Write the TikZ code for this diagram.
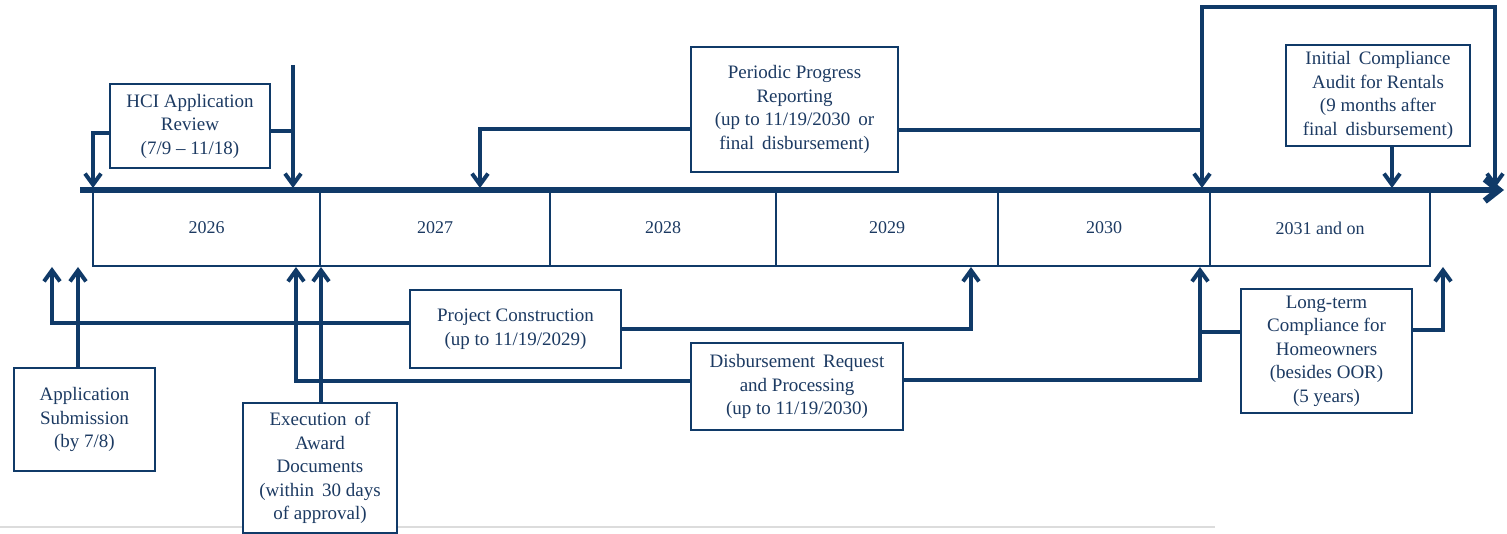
\documentclass[tikz,border=0pt]{standalone}
\usepackage{fontspec}
\setmainfont{Liberation Serif}
\usetikzlibrary{arrows.meta,calc}
\definecolor{navy}{RGB}{16,58,104}
\definecolor{txt}{RGB}{28,58,98}
\definecolor{faint}{RGB}{220,220,220}
\tikzset{
  yearbox/.style={draw=navy, line width=1.6pt, fill=white, text=txt,
    font=\fontsize{18}{22}\selectfont, minimum height=76pt, inner sep=0pt},
  evbox/.style={draw=navy, line width=2pt, fill=white, text=txt, align=center,
    font=\fontsize{19}{23.5}\selectfont, inner sep=0pt},
  conn/.style={draw=navy, line width=4pt, line join=miter},
  arr/.style={-{Straight Barb[length=11pt,width=16pt]}},
  bothArr/.style={{Straight Barb[length=11pt,width=16pt]}-{Straight Barb[length=11pt,width=16pt]}},
  timeline/.style={draw=navy, line width=6.5pt, -{Straight Barb[length=14pt,width=22pt]}}
}
\begin{document}
\begin{tikzpicture}[x=1pt,y=-1pt]
\useasboundingbox (0,0) rectangle (1507,534);

% faint rule at the bottom
\coordinate (gl1) at (0,527);
\coordinate (gl2) at (1215,527);
\draw[faint, line width=1.3pt] (gl1) -- (gl2);

% year boxes
\node[yearbox, minimum width=227pt] (y2026) at (206.5,228) {2026};
\node[yearbox, minimum width=230pt] (y2027) at (435,228) {2027};
\node[yearbox, minimum width=226pt] (y2028) at (663,228) {2028};
\node[yearbox, minimum width=222pt] (y2029) at (887,228) {2029};
\node[yearbox, minimum width=212pt] (y2030) at (1104,228) {2030};
\node[yearbox, minimum width=220pt] (y2031) at (1320,228) {2031 and on};

% timeline
\coordinate (tlS) at (80,190);
\coordinate (tlE) at (1504,190);
\draw[timeline] (tlS) -- (tlE);

% event boxes
\node[evbox, minimum width=160pt, minimum height=84pt] (hci) at (190,126)
  {HCI Application\\Review\\(7/9 -- 11/18)};
\node[evbox, minimum width=207pt, minimum height=125pt] (pp) at (794.5,109.5)
  {Periodic Progress\\Reporting\\(up to 11/19/2030 \,or\\final \,disbursement)};
\node[evbox, minimum width=184pt, minimum height=101pt] (ica) at (1378,95.5)
  {Initial \,Compliance\\Audit for Rentals\\(9 months after\\final \,disbursement)};
\node[evbox, minimum width=141pt, minimum height=103pt] (app) at (84.5,419.5)
  {Application\\Submission\\(by 7/8)};
\node[evbox, minimum width=211pt, minimum height=78pt] (pc) at (515.5,329)
  {Project Construction\\(up to 11/19/2029)};
\node[evbox, minimum width=154pt, minimum height=130pt] (ex) at (320,468)
  {Execution \,of\\Award\\Documents\\(within \,30 days\\of approval)};
\node[evbox, minimum width=212pt, minimum height=87pt] (dr) at (797,386.5)
  {Disbursement \,Request\\and Processing\\(up to 11/19/2030)};
\node[evbox, minimum width=171pt, minimum height=124pt] (lt) at (1326.5,351)
  {Long-term\\Compliance for\\Homeowners\\(besides OOR)\\(5 years)};

% free ends of connectors
\coordinate (hciL) at (93,188);
\coordinate (hciJ) at (293,131);
\coordinate (hciTop) at (293,65);
\coordinate (hciR) at (293,188);
\coordinate (ppL) at (480,188);
\coordinate (ppR) at (1202,130);
\coordinate (loopA) at (1202,188);
\coordinate (loopTL) at (1202,7);
\coordinate (loopTR) at (1495,7);
\coordinate (loopB) at (1495,188);
\coordinate (icaT) at (1392,188);
\coordinate (appT) at (78,267);
\coordinate (pcL) at (52,267);
\coordinate (pcR) at (971,267);
\coordinate (exT) at (321,267);
\coordinate (drL) at (296,267);
\coordinate (drR) at (1200,267);
\coordinate (ltJ) at (1200,332);
\coordinate (ltR) at (1443,267);

% connectors above the timeline
\draw[conn,arr] ([yshift=-7pt]hci.west) -| (hciL);
\draw[conn] ([yshift=-5pt]hci.east) -- (hciJ);
\draw[conn,arr] (hciTop) -- (hciR);
\draw[conn,arr] ([yshift=-19.5pt]pp.west) -| (ppL);
\draw[conn] ([yshift=-20.5pt]pp.east) -- (ppR);
\draw[conn,bothArr] (loopA) -- (loopTL) -- (loopTR) -- (loopB);
\draw[conn,arr] ([xshift=14pt]ica.south) -- (icaT);

% connectors below the timeline
\draw[conn,arr] ([xshift=-6.5pt]app.north) -- (appT);
\draw[conn,arr] ([yshift=6pt]pc.west) -| (pcL);
\draw[conn,arr] (pc.east) -| (pcR);
\draw[conn,arr] ([xshift=1pt]ex.north) -- (exT);
\draw[conn,arr] ([yshift=5.5pt]dr.west) -| (drL);
\draw[conn,arr] ([yshift=6.5pt]dr.east) -| (drR);
\draw[conn] ([yshift=19pt]lt.west) -- (ltJ);
\draw[conn,arr] ([yshift=21pt]lt.east) -| (ltR);
\end{tikzpicture}
\end{document}
